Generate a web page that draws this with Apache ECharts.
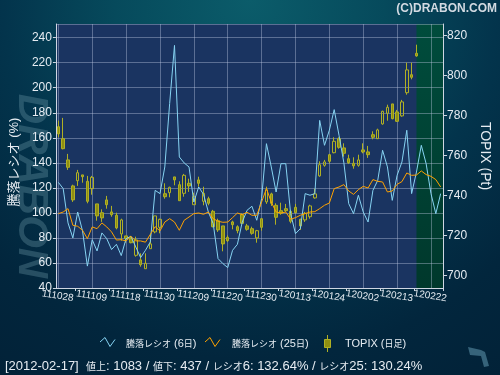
<!DOCTYPE html>
<html><head><meta charset="utf-8">
<script src="https://cdn.jsdelivr.net/npm/echarts@6/dist/echarts.min.js"></script>
<style>html,body{margin:0;padding:0;background:#02233a}#c{width:500px;height:375px}</style>
</head><body><div id="c"></div>
<script>
// Trading days (yymmdd); last 5 are the future area
const dates = ['111028','111031','111101','111102','111104','111107','111108','111109','111110','111111',
'111114','111115','111116','111117','111118','111121','111122','111124','111125','111128',
'111129','111130','111201','111202','111205','111206','111207','111208','111209','111212',
'111213','111214','111215','111216','111219','111220','111221','111222','111226','111227',
'111228','111229','111230','120104','120105','120106','120110','120111','120112','120113',
'120116','120117','120118','120119','120120','120123','120124','120125','120126','120127',
'120130','120131','120201','120202','120203','120206','120207','120208','120209','120210',
'120213','120214','120215','120216','120217','120220','120221','120222','120223','120224'];

// TOPIX daily candles
const topixOpen = [774.5,768.5,757.9,744.9,747.5,750.4,747.2,743.5,735.9,731.5,
737.9,731.9,730.2,720.9,719.9,718.5,710.2,707.9,703.5,713.5,
721.9,724.2,741.0,741.5,749.4,745.5,741.2,746.2,735.5,747.9,
737.2,738.5,732.2,727.5,724.9,719.2,726.9,724.5,730.5,724.9,
723.5,718.9,728.5,736.9,740.9,735.2,732.5,733.5,732.2,734.2,
728.2,727.9,729.5,738.9,749.9,755.2,760.5,761.5,768.5,763.9,
758.5,756.2,755.2,762.9,761.9,770.5,768.5,775.9,781.2,785.9,
781.9,779.9,791.5,800.5,811.2];
const topixClose = [770.9,763.5,754.2,737.9,751.5,749.5,737.2,749.2,729.9,728.9,
735.5,730.5,723.9,727.9,718.5,716.5,717.9,705.5,706.2,715.9,
729.9,728.2,739.5,744.2,747.9,737.5,750.2,744.9,739.5,746.2,
741.2,736.2,724.5,722.9,715.9,717.5,725.5,722.5,726.2,723.2,
721.2,722.5,724.2,742.9,736.2,729.2,731.2,732.5,727.2,731.5,
724.9,731.2,734.9,740.9,755.5,756.9,757.2,767.2,764.2,761.2,
756.5,754.9,757.9,761.9,760.5,769.2,772.9,782.2,784.2,778.5,
777.2,786.9,802.9,799.2,809.9];
const topixLow = [769.2,763.2,752.9,736.9,744.9,746.5,736.2,740.5,727.5,726.9,
733.5,729.5,723.2,717.5,716.5,716.2,709.5,704.5,703.5,713.5,
721.2,721.2,738.5,739.2,745.2,737.5,739.5,741.9,735.5,744.5,
735.2,735.2,724.2,721.9,712.2,716.9,723.2,721.2,725.9,722.5,
720.5,716.5,722.5,735.9,734.9,725.5,730.5,731.9,726.2,731.2,
722.9,726.9,728.5,738.5,749.5,754.5,756.2,761.2,763.5,759.5,
755.9,753.5,754.5,761.2,758.9,768.2,768.5,775.5,777.5,778.2,
776.9,779.5,790.5,798.2,809.5];
const topixHigh = [777.5,778.9,760.9,745.5,752.9,750.4,749.9,749.9,735.9,733.2,
739.9,734.9,731.5,728.5,719.9,719.9,719.5,711.2,711.2,720.9,
729.9,728.5,746.2,744.5,749.4,747.2,750.9,748.5,741.5,749.5,
744.5,739.5,732.9,728.5,724.9,720.2,727.5,725.2,731.2,725.9,
724.5,722.9,728.5,744.5,741.5,736.2,736.5,735.9,732.9,735.9,
728.5,731.9,735.5,743.5,757.2,757.9,760.9,769.2,769.2,766.2,
760.5,759.2,760.5,766.2,764.9,772.2,773.5,782.5,785.5,785.9,
782.9,787.9,806.5,806.5,815.5];

// Advance/decline ratio (%)
const ratio6 = [124.4,119.4,92.0,80.0,100.7,85.5,57.5,78.6,69.6,84.0,
79.4,70.7,74.9,65.9,79.4,81.3,72.8,64.3,70.1,76.8,
118.0,115.4,136.7,187.3,233.8,144.7,139.9,136.7,108.7,120.7,
114.8,100.7,91.4,63.5,59.5,56.3,70.1,74.9,92.7,102.1,
105.3,94.1,111.4,155.3,136.7,116.7,139.3,139.3,99.4,83.4,
87.4,115.4,114.1,115.4,173.9,154.0,166.0,182.5,162.0,140.0,
107.4,99.4,114.1,100.7,92.7,118.0,126.0,150.0,136.7,110.0,
130.0,140.7,166.0,115.4,132.64,154.0,139.3,115.4,99.4,115.4];
const ratio25 = [99.4,100.7,103.4,90.1,89.3,86.1,79.4,88.8,87.4,92.0,
88.8,84.8,78.3,78.6,77.6,81.3,77.6,77.6,76.6,82.8,
89.0,85.6,92.7,95.4,92.7,86.1,94.1,96.7,99.4,99.9,
98.9,100.7,95.4,93.3,92.5,92.7,96.2,99.9,98.6,100.5,
98.1,98.1,108.7,119.4,108.7,100.7,99.9,100.7,94.9,96.2,
98.1,99.4,100.7,101.0,103.4,106.1,107.9,119.4,120.7,122.6,
117.5,114.8,118.6,121.2,119.9,126.6,125.2,124.7,116.7,117.5,
122.8,125.0,131.9,130.0,130.24,133.5,130.6,129.2,126.6,120.7];

const leftMin = 40, leftMax = 250.9;
const lastIdx = topixOpen.length - 1;
const FONT = "'Liberation Sans','Noto Sans CJK JP',sans-serif";
const CJK = "'Noto Sans CJK JP',sans-serif";
const TXT = '#e6ecf2';
const BLUE = '#86d3f2', ORANGE = '#ffa200';
const CANDLE_FILL = '#8f8f12', CANDLE_LINE = '#b0b024';

const candles = topixOpen.map((o, i) => [o, topixClose[i], topixLow[i], topixHigh[i]]);

const chart = echarts.init(document.getElementById('c'), null, {renderer: 'canvas', width: 500, height: 375});
const gridLine = 'rgba(190,200,225,0.4)';
const axisCol = '#cfd6e2';

const legRich = {
  a: {fontSize: 11, fontFamily: "'Liberation Sans',sans-serif", color: TXT},
  j: {fontSize: 9, fontFamily: CJK, color: TXT}
};
const statRich = {
  a: {fontSize: 13, fontFamily: "'Liberation Sans',sans-serif", color: TXT},
  j: {fontSize: 10, fontFamily: CJK, color: TXT}
};

chart.setOption({
  animation: false,
  backgroundColor: {type: 'radial', x: 0.5, y: 0, r: 1.2, colorStops: [
    {offset: 0, color: '#0b5c6a'}, {offset: 0.3, color: '#064a5c'},
    {offset: 0.55, color: '#03344c'}, {offset: 0.8, color: '#02263d'}, {offset: 1, color: '#022238'}]},
  textStyle: {fontFamily: FONT},
  grid: {left: 54, right: 52, top: 24, height: 264, show: true, backgroundColor: '#1a3461', borderWidth: 0},
  xAxis: {
    type: 'category', data: dates, boundaryGap: true, z: 1.5,
    axisLine: {show: true, lineStyle: {color: axisCol, width: 1}},
    axisTick: {show: true, interval: (i) => i % 7 === 4, length: 3, lineStyle: {color: axisCol}},
    axisLabel: {interval: 6, color: TXT, fontSize: 10, fontFamily: "'Liberation Sans',sans-serif", rotate: -9, align: 'center', verticalAlign: 'top', margin: 3},
    splitLine: {show: true, interval: 6, alignWithLabel: true, lineStyle: {color: gridLine, width: 1}}
  },
  yAxis: [{
    type: 'value', position: 'left', min: leftMin, max: leftMax, interval: 20, z: 1.5,
    name: '騰落レシオ (%)', nameLocation: 'middle', nameRotate: 90, nameGap: 33,
    nameTextStyle: {color: TXT, fontSize: 13, fontFamily: FONT, padding: [0, 12, 0, 0]},
    axisLine: {show: true, lineStyle: {color: axisCol}},
    axisTick: {show: true, length: 3, lineStyle: {color: axisCol}},
    axisLabel: {color: TXT, fontSize: 12, margin: 4, showMaxLabel: false},
    splitLine: {show: true, lineStyle: {color: gridLine, width: 1}}
  }, {
    type: 'value', position: 'right', min: 693.85, max: 825.85, splitNumber: 6, z: 1.5,
    name: 'TOPIX (Pt)', nameLocation: 'middle', nameRotate: -90, nameGap: 31,
    nameTextStyle: {color: TXT, fontSize: 14, fontFamily: FONT},
    axisLine: {show: true, lineStyle: {color: axisCol}},
    axisTick: {show: true, length: 4, lineStyle: {color: axisCol}},
    axisLabel: {color: TXT, fontSize: 12, margin: 4, showMinLabel: false, showMaxLabel: false},
    splitLine: {show: false}
  }],
  series: [{
    name: 'TOPIX (日足)', type: 'candlestick', yAxisIndex: 1, data: candles, barWidth: 3, z: 2,
    itemStyle: {color: 'rgba(0,0,0,0)', color0: CANDLE_FILL, borderColor: CANDLE_LINE, borderColor0: CANDLE_LINE, borderWidth: 1}
  }, {
    name: '騰落レシオ (6日)', type: 'line', yAxisIndex: 0, data: ratio6, symbol: 'none', z: 3,
    lineStyle: {color: BLUE, width: 1}, itemStyle: {color: BLUE}
  }, {
    name: '騰落レシオ (25日)', type: 'line', yAxisIndex: 0, data: ratio25, symbol: 'none', z: 3,
    lineStyle: {color: ORANGE, width: 1}, itemStyle: {color: ORANGE}
  }],
  graphic: [
    {id: 'copy', type: 'text', right: 3, top: 3, z: 5, style: {text: '(C)DRABON.COM', fill: '#d3dae2', font: "bold 12px 'Liberation Sans',sans-serif"}},
    {id: 'wm', type: 'text', x: 31, y: 186, rotation: -Math.PI / 2, z: 0, silent: true,
      style: {text: 'DRABON', fill: 'rgba(110,155,170,0.34)', font: "italic bold 42px 'Liberation Sans',sans-serif", align: 'center', verticalAlign: 'middle'}},
    {id: 'lg1i', type: 'polyline', z: 5, shape: {points: [[100, 342], [105, 337.5], [110, 346.5], [115, 339.5]]}, style: {stroke: BLUE, lineWidth: 1, fill: null}},
    {id: 'lg1t', type: 'text', x: 126, y: 343.5, z: 5, style: {text: '{j|騰落レシオ}{a| (6}{j|日}{a|)}', rich: legRich, fill: TXT, verticalAlign: 'middle'}},
    {id: 'lg2i', type: 'polyline', z: 5, shape: {points: [[205, 342], [210, 337.5], [215, 346.5], [220, 339.5]]}, style: {stroke: ORANGE, lineWidth: 1, fill: null}},
    {id: 'lg2t', type: 'text', x: 232, y: 343.5, z: 5, style: {text: '{j|騰落レシオ}{a| (25}{j|日}{a|)}', rich: legRich, fill: TXT, verticalAlign: 'middle'}},
    {id: 'lg3w', type: 'line', z: 5, shape: {x1: 327.5, y1: 335, x2: 327.5, y2: 352}, style: {stroke: CANDLE_LINE, lineWidth: 1}},
    {id: 'lg3b', type: 'rect', z: 6, shape: {x: 324.5, y: 339.5, width: 6, height: 8}, style: {fill: CANDLE_FILL, stroke: CANDLE_LINE, lineWidth: 1}},
    {id: 'lg3t', type: 'text', x: 345, y: 343.5, z: 5, style: {text: '{a|TOPIX (}{j|日足}{a|)}', rich: legRich, fill: TXT, verticalAlign: 'middle'}},
    {id: 'stat', type: 'text', x: 5, y: 366.5, z: 5, style: {
      text: '{a|[2012-02-17]  }{j|値上}{a|: 1083 / }{j|値下}{a|: 437 / }{j|レシオ}{a|6: 132.64% / }{j|レシオ}{a|25: 130.24%}',
      rich: statRich, fill: TXT, verticalAlign: 'middle'}},
    {id: 'logo', type: 'polygon', z: 5, shape: {points: [[468, 347], [481, 350], [485, 352], [489, 366], [484, 367], [481, 356], [470, 355]]}, style: {fill: '#36637a'}}
  ]
});

// Future (not yet traded) area: from the last candle to the right edge, positioned through the axes
const xLast = chart.convertToPixel({xAxisIndex: 0}, dates[lastIdx]);
const xEnd = chart.convertToPixel({xAxisIndex: 0}, dates[dates.length - 1]);
const band = chart.convertToPixel({xAxisIndex: 0}, dates[1]) - chart.convertToPixel({xAxisIndex: 0}, dates[0]);
const yTop = chart.convertToPixel({yAxisIndex: 0}, leftMax);
const yBot = chart.convertToPixel({yAxisIndex: 0}, leftMin);
chart.setOption({graphic: [{
  id: 'future', type: 'rect', z: 1, silent: true,
  shape: {x: xLast, y: yTop, width: xEnd + band / 2 - xLast, height: yBot - yTop},
  style: {fill: {type: 'linear', x: 0, y: 0, x2: 0, y2: 1, colorStops: [
    {offset: 0, color: '#004c3c'}, {offset: 1, color: '#00382c'}]}}
}]});
</script>
</body></html>
